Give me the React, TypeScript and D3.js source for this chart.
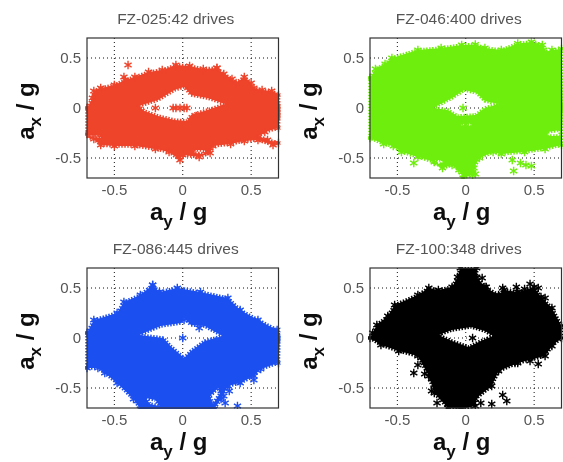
import React from 'react'
import * as d3 from 'd3'

type Pt = [number, number] // [ay, ax] in g

const tickValues = [-0.5, 0, 0.5]
const tickLabels = ['-0.5', '0', '0.5']
const titles = ['FZ-025:42 drives', 'FZ-046:400 drives', 'FZ-086:445 drives', 'FZ-100:348 drives']
const colors = ['#ee442c', '#6eee0a', '#1f50f0', '#000000']

// outer envelope of each cloud
const redOutline: Pt[] = [[-0.7,0],[-0.66,0.1],[-0.65,0.17],[-0.6,0.2],[-0.5,0.23],[-0.42,0.28],[-0.35,0.31],[-0.25,0.36],[-0.15,0.38],[-0.05,0.43],[0.05,0.42],[0.15,0.39],[0.25,0.4],[0.3,0.34],[0.36,0.29],[0.39,0.25],[0.45,0.31],[0.5,0.25],[0.52,0.2],[0.58,0.18],[0.65,0.17],[0.7,0.13],[0.71,0],[0.71,-0.07],[0.7,-0.2],[0.6,-0.24],[0.55,-0.28],[0.62,-0.32],[0.7,-0.35],[0.66,-0.37],[0.55,-0.32],[0.45,-0.33],[0.35,-0.36],[0.22,-0.38],[0.2,-0.45],[0.12,-0.49],[0,-0.47],[-0.02,-0.52],[-0.1,-0.44],[-0.2,-0.41],[-0.35,-0.38],[-0.5,-0.38],[-0.6,-0.37],[-0.65,-0.31],[-0.7,-0.26]]
const greenOutline: Pt[] = [[-0.7,0.3],[-0.66,0.39],[-0.59,0.44],[-0.54,0.5],[-0.35,0.58],[-0.18,0.6],[-0.03,0.63],[0.07,0.635],[0.14,0.6],[0.26,0.58],[0.38,0.645],[0.48,0.66],[0.56,0.63],[0.57,0.58],[0.62,0.55],[0.63,0.58],[0.7,0.59],[0.71,0],[0.7,-0.37],[0.58,-0.41],[0.43,-0.44],[0.26,-0.46],[0.2,-0.44],[0.1,-0.5],[0.06,-0.6],[0.07,-0.66],[-0.02,-0.7],[-0.05,-0.62],[-0.1,-0.57],[-0.17,-0.6],[-0.23,-0.54],[-0.35,-0.49],[-0.47,-0.44],[-0.53,-0.38],[-0.6,-0.36],[-0.7,-0.3]]
const blueOutline: Pt[] = [[-0.7,0.05],[-0.65,0.18],[-0.48,0.25],[-0.43,0.36],[-0.31,0.43],[-0.22,0.53],[-0.17,0.46],[-0.04,0.5],[0.13,0.46],[0.33,0.4],[0.42,0.28],[0.55,0.18],[0.69,0.08],[0.71,0],[0.7,-0.25],[0.57,-0.31],[0.52,-0.38],[0.42,-0.45],[0.33,-0.48],[0.28,-0.61],[0.23,-0.71],[-0.31,-0.71],[-0.36,-0.61],[-0.48,-0.45],[-0.57,-0.35],[-0.62,-0.3],[-0.7,-0.3]]
const blackOutline: Pt[] = [[-0.7,0],[-0.65,0.13],[-0.57,0.22],[-0.52,0.33],[-0.35,0.43],[-0.27,0.5],[-0.2,0.48],[-0.1,0.51],[-0.06,0.61],[-0.04,0.7],[0.08,0.7],[0.08,0.61],[0.14,0.51],[0.24,0.43],[0.28,0.48],[0.38,0.46],[0.5,0.51],[0.55,0.41],[0.63,0.3],[0.7,0.12],[0.7,0],[0.63,-0.08],[0.58,-0.18],[0.38,-0.25],[0.24,-0.33],[0.19,-0.48],[0.07,-0.61],[0.07,-0.68],[-0.03,-0.71],[-0.13,-0.7],[-0.23,-0.55],[-0.27,-0.38],[-0.35,-0.18],[-0.49,-0.13],[-0.62,-0.07]]

// white gaps inside the clouds
const redHoles: Pt[][] = [
  [[-0.32,0.02],[-0.18,0.08],[-0.06,0.18],[0.01,0.21],[0.06,0.13],[0.18,0.1],[0.31,0.04],[0.18,-0.02],[0.06,-0.07],[0.03,-0.13],[-0.06,-0.12],[-0.18,-0.08],[-0.28,-0.03]],
  [[0.08,-0.42],[0.17,-0.42],[0.15,-0.46],[0.09,-0.45]],
  [[-0.69,-0.27],[-0.6,-0.28],[-0.6,-0.3],[-0.69,-0.3]],
]
const greenHoles: Pt[][] = [
  [[-0.24,0],[-0.1,0.1],[-0.01,0.18],[0.08,0.15],[0.14,0.07],[0.24,0.04],[0.14,0],[0.07,-0.07],[-0.06,-0.08],[-0.13,-0.02]],
  [[-0.03,-0.15],[0.04,-0.15],[0.04,-0.18],[-0.03,-0.18]],
  [[-0.24,-0.52],[-0.17,-0.52],[-0.17,-0.56],[-0.24,-0.56]],
  [[0.6,-0.24],[0.69,-0.22],[0.69,-0.28],[0.6,-0.28]],
]
const blueHoles: Pt[][] = [
  [[-0.32,0.03],[-0.16,0.12],[-0.01,0.15],[0.01,0.2],[0.06,0.13],[0.16,0.12],[0.29,0.02],[0.16,-0.03],[0.06,-0.13],[0.01,-0.2],[-0.09,-0.08],[-0.14,0]],
  [[-0.27,-0.6],[-0.2,-0.62],[-0.17,-0.68],[-0.24,-0.66]],
  [[0.2,-0.58],[0.26,-0.5],[0.27,-0.56],[0.22,-0.66]],
]
const blackHoles: Pt[][] = [
  [[-0.2,0.03],[-0.1,0.08],[0.04,0.11],[0.14,0.07],[0.2,0.02],[0.11,-0.03],[0.02,-0.09],[-0.1,-0.03]],
]

// separate star markers
const redStars: Pt[] = [[-0.4,0.43],[-0.43,0.31],[0.25,0.4],[-0.07,0],[-0.05,0],[-0.02,0],[0.01,0],[0.03,0],[-0.2,0.0],[0.1,-0.08]]
const greenStars: Pt[] = [[-0.02,0],[0.35,-0.63],[0.48,-0.58],[0.4,-0.55],[0.44,-0.57],[-0.38,-0.55],[0.51,0.63],[0.34,-0.52],[0.05,-0.67],[0,-0.165]]
const blueStars: Pt[] = [[0,0],[0.01,0.18],[0.12,0.1],[-0.22,0.53],[0.52,-0.42],[0.4,-0.68],[0.31,-0.65],[0.34,-0.53],[0.3,-0.58],[-0.32,-0.63],[-0.28,-0.7]]
const blackStars: Pt[] = [[-0.35,-0.27],[-0.38,-0.35],[-0.3,-0.36],[-0.25,-0.41],[-0.25,-0.53],[-0.21,-0.65],[0.27,-0.57],[0.3,-0.63],[0.19,-0.66],[0.11,-0.65],[0.53,-0.26],[0.47,-0.23],[0.36,-0.25],[0.12,0.6],[0.15,0.51],[0.27,0.5],[0.37,0.51],[0.43,0.49],[0.47,0.54],[0.53,0.5],[0.58,0.4],[-0.68,0.05],[-0.63,0.12],[0.05,0],[0.01,0.17]]

const outlines = [redOutline, greenOutline, blueOutline, blackOutline]
const holes = [redHoles, greenHoles, blueHoles, blackHoles]
const stars = [redStars, greenStars, blueStars, blackStars]

const plotLefts = [87, 370, 87, 370]
const plotTops = [38, 38, 268, 268]
const plotW = 191.5
const plotH = 140
const font = '"Liberation Sans", Arial, sans-serif'

const star = d3.symbol(d3.symbolAsterisk, 48)

function Panel({ i }: { i: number }) {
  const left = plotLefts[i]
  const top = plotTops[i]
  const x = d3.scaleLinear().domain([-0.7, 0.7]).range([left, left + plotW])
  const y = d3.scaleLinear().domain([-0.7, 0.7]).range([top + plotH, top])
  const line = d3.line<Pt>().x(d => x(d[0])).y(d => y(d[1])).curve(d3.curveLinearClosed)
  const color = colors[i]
  const cx = left + plotW / 2
  const clipId = `clip-${i}`
  const fill = line(outlines[i]) + holes[i].map(h => line(h)).join('')

  return (
    <g>
      <clipPath id={clipId}>
        <rect x={left - 2} y={top - 1} width={plotW + 4} height={plotH + 2} />
      </clipPath>

      {tickValues.map(t => (
        <g key={t} stroke="#111" strokeWidth={1} strokeDasharray="1 3">
          <line x1={x(t)} x2={x(t)} y1={top} y2={top + plotH} />
          <line x1={left} x2={left + plotW} y1={y(t)} y2={y(t)} />
        </g>
      ))}

      <g clipPath={`url(#${clipId})`}>
        <path d={fill} fill={color} fillRule="evenodd" />
        <path d={fill} fill="none" stroke={color} strokeWidth={3.5} strokeDasharray="1.5 1.5" />
        {outlines[i].concat(stars[i]).map((d, k) => (
          <path key={k} d={star() as string} transform={`translate(${x(d[0])},${y(d[1])})`}
            fill="none" stroke={color} strokeWidth={1.4} />
        ))}
      </g>

      <rect x={left} y={top} width={plotW} height={plotH} fill="none" stroke="#333" strokeWidth={1.2} />

      <g fontFamily={font} fontSize={15} fill="#555">
        {tickValues.map((t, k) => (
          <g key={t}>
            <text x={x(t)} y={top + plotH + 17} textAnchor="middle">{tickLabels[k]}</text>
            <text x={left - 6} y={y(t) + 5} textAnchor="end">{tickLabels[k]}</text>
          </g>
        ))}
      </g>

      <text x={cx - 7} y={top - 14} textAnchor="middle" fontFamily={font} fontSize={15.5} fill="#555">{titles[i]}</text>

      <text x={cx - 4} y={top + plotH + 42} textAnchor="middle" fontFamily={font} fontSize={24} fontWeight="bold" fill="#111">
        a<tspan fontSize={17} dy={7}>y</tspan><tspan dy={-7} xmlSpace="preserve"> / g</tspan>
      </text>
      <text transform={`translate(${left - 53},${top + 73}) rotate(-90)`} textAnchor="middle" fontFamily={font} fontSize={24} fontWeight="bold" fill="#111">
        a<tspan fontSize={17} dy={7}>x</tspan><tspan dy={-7} xmlSpace="preserve"> / g</tspan>
      </text>
    </g>
  )
}

export default function App() {
  return (
    <svg width={563} height={462} viewBox="0 0 563 462" style={{ position: 'absolute', left: 0, top: 0, background: '#fff' }}>
      <filter id="soft" x="0" y="0" width="100%" height="100%">
        <feGaussianBlur stdDeviation={0.35} />
      </filter>
      <g filter="url(#soft)">
        <rect width={563} height={462} fill="#fff" />
        {titles.map((t, i) => <Panel key={t} i={i} />)}
      </g>
    </svg>
  )
}
